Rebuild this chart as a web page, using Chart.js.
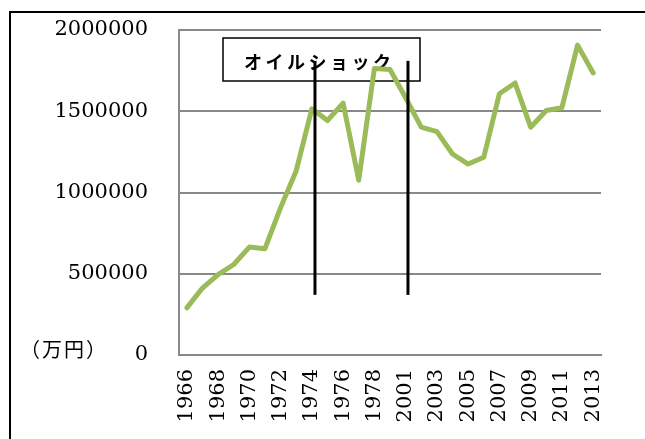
<!DOCTYPE html>
<html>
<head>
<meta charset="utf-8">
<script src="https://cdn.jsdelivr.net/npm/chart.js@4.4.0/dist/chart.umd.min.js"></script>
<style>
  body { margin: 0; background: #fff; }
  #wrap { width: 645px; height: 439px; }
</style>
</head>
<body>
<div id="wrap"><canvas id="c" width="645" height="439"></canvas></div>
<script>
// years on the x axis (1979 sits between 1978 and 2001, unlabelled)
const years = [
  "1966", "1967", "1968", "1969", "1970", "1971", "1972", "1973", "1974",
  "1975", "1976", "1977", "1978", "1979",
  "2001", "2002", "2003", "2004", "2005", "2006", "2007", "2008", "2009",
  "2010", "2011", "2012", "2013"
];
// 万円
const amounts = [
  290000, 412000, 495000, 557000, 664000, 654000, 907000, 1134000, 1515000,
  1443000, 1550000, 1076000, 1763000, 1757000,
  1583000, 1402000, 1375000, 1237000, 1175000, 1217000, 1608000, 1674000, 1402000,
  1505000, 1522000, 1907000, 1736000
];
const yTicks = [0, 500000, 1000000, 1500000, 2000000];
const unitLabel = "（万円）";
const boxLabel = "オイルショック";

// the two oil shock markers, in category index / value units
const shocks = [
  { at: 8.2, from: 370000, to: 1810000 },
  { at: 14.15, from: 370000, to: 1810000 }
];

const serif = "'DejaVu Serif', 'Liberation Serif', serif";
const gothic = "'Noto Sans CJK JP', sans-serif";

const extras = {
  id: "extras",
  beforeDraw(chart) {
    const ctx = chart.ctx;
    ctx.save();
    // outer frame (top and left edges)
    ctx.strokeStyle = "#000";
    ctx.lineWidth = 2;
    ctx.beginPath();
    ctx.moveTo(645, 12);
    ctx.lineTo(10, 12);
    ctx.lineTo(10, 439);
    ctx.stroke();
    // unit
    ctx.fillStyle = "#000";
    ctx.font = "20px " + gothic;
    ctx.letterSpacing = "2px";
    ctx.textBaseline = "middle";
    ctx.textAlign = "left";
    ctx.fillText(unitLabel, 20, 349);
    ctx.restore();
  },
  beforeDatasetsDraw(chart) {
    const ctx = chart.ctx;
    ctx.save();
    ctx.fillStyle = "#fff";
    ctx.strokeStyle = "#000";
    ctx.lineWidth = 1.5;
    ctx.fillRect(223, 38, 197, 43);
    ctx.strokeRect(223, 38, 197, 43);
    ctx.fillStyle = "#000";
    ctx.font = "bold 18px " + gothic;
    ctx.letterSpacing = "3.5px";
    ctx.textBaseline = "middle";
    ctx.textAlign = "left";
    ctx.fillText(boxLabel, 244, 62);
    ctx.restore();
  },
  afterDatasetsDraw(chart) {
    const ctx = chart.ctx;
    const x = chart.scales.x, y = chart.scales.y;
    ctx.save();
    ctx.strokeStyle = "#000";
    ctx.lineWidth = 3;
    shocks.forEach(s => {
      const px = x.getPixelForValue(s.at);
      ctx.beginPath();
      ctx.moveTo(px, y.getPixelForValue(s.to));
      ctx.lineTo(px, y.getPixelForValue(s.from));
      ctx.stroke();
    });
    ctx.restore();
  }
};

new Chart(document.getElementById("c"), {
  type: "line",
  data: {
    labels: years,
    datasets: [{
      data: amounts,
      borderColor: "#9bbb59",
      borderWidth: 5,
      borderCapStyle: "round",
      borderJoinStyle: "round",
      pointRadius: 0,
      tension: 0,
      fill: false
    }]
  },
  options: {
    responsive: false,
    animation: false,
    layout: { padding: { top: 30, right: 44, left: 0, bottom: 0 } },
    plugins: { legend: { display: false }, tooltip: { enabled: false } },
    scales: {
      x: {
        offset: true,
        grid: { display: false, drawTicks: false },
        border: { display: true, color: "#888", width: 2 },
        ticks: {
          autoSkip: false,
          maxRotation: 90,
          minRotation: 90,
          padding: 14,
          color: "#000",
          font: { family: serif, size: 21 },
          callback: (v, i) => (i % 2 === 0 ? years[i] : "")
        },
        afterFit: s => { s.height = 84; }
      },
      y: {
        min: 0,
        max: 2000000,
        grid: { color: "#888", lineWidth: 2, drawTicks: false },
        border: { display: true, color: "#888", width: 2 },
        afterBuildTicks: s => { s.ticks = yTicks.map(v => ({ value: v })); },
        ticks: {
          padding: 31,
          color: "#000",
          font: { family: serif, size: 21 },
          callback: v => String(v)
        },
        afterFit: s => {
          s.width = 179;
          s.paddingTop = 0;
          s.paddingBottom = 0;
        }
      }
    }
  },
  plugins: [extras]
});
</script>
</body>
</html>
